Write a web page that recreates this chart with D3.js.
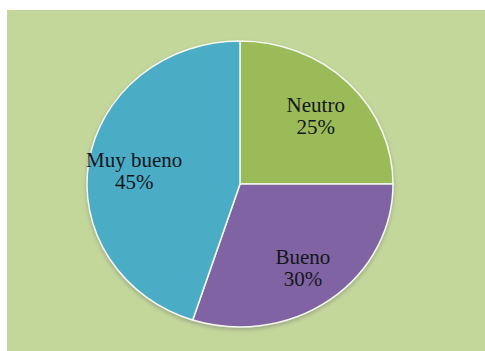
<!DOCTYPE html>
<html>
<head>
<meta charset="utf-8">
<script src="https://cdn.jsdelivr.net/npm/d3@7"></script>
<style>
  html, body { margin: 0; padding: 0; background: #ffffff; }
  svg { display: block; }
  .slice-label { font-family: "Times New Roman", "Liberation Serif", Tinos, "DejaVu Serif", serif; font-size: 21px; }
</style>
</head>
<body>
<div id="chart"></div>
<script>
// Survey rating shares
const categories = ["Neutro", "Bueno", "Muy bueno"];
const values = [25, 30, 45];
const colors = ["#9bbb59", "#8064a2", "#4bacc6"];

const width = 485, height = 351;
const cx = 240, cy = 184;
const r = 143;             // vertical radius
const stretch = 153 / 143; // pie is drawn slightly wider than tall

const data = categories.map((c, i) => ({ name: c, value: values[i], color: colors[i] }));

const svg = d3.select("#chart").append("svg")
  .attr("width", width)
  .attr("height", height);

// panel background
svg.append("rect")
  .attr("x", 7).attr("y", 10)
  .attr("width", width - 7).attr("height", height - 10)
  .attr("fill", "#c4d79b");

const defs = svg.append("defs");
const shadow = defs.append("filter").attr("id", "pieShadow")
  .attr("x", "-10%").attr("y", "-10%").attr("width", "120%").attr("height", "125%");
shadow.append("feDropShadow")
  .attr("dx", 0).attr("dy", 2).attr("stdDeviation", 2)
  .attr("flood-color", "#6b6b6b").attr("flood-opacity", 0.45);

const pie = d3.pie().sort(null).value(d => d.value);
const arc = d3.arc().innerRadius(0).outerRadius(r);
const labelArc = d3.arc().innerRadius(r * 0.7).outerRadius(r * 0.7);

const arcs = pie(data);

const g = svg.append("g")
  .attr("transform", `translate(${cx},${cy}) scale(${stretch},1)`)
  .attr("filter", "url(#pieShadow)");

g.selectAll("path.slice")
  .data(arcs)
  .join("path")
  .attr("class", "slice")
  .attr("d", arc)
  .attr("fill", d => d.data.color)
  .attr("stroke", "#f4f8ee")
  .attr("stroke-width", 1.5)
  .attr("vector-effect", "non-scaling-stroke");

// labels: name and percentage on two lines
const total = d3.sum(values);
const labels = svg.append("g")
  .attr("fill", "#14161c")
  .attr("text-anchor", "middle");

labels.selectAll("text")
  .data(arcs)
  .join("text")
  .attr("class", "slice-label")
  .each(function (d) {
    const [lx, ly] = labelArc.centroid(d);
    const x = cx + lx * stretch, y = cy + ly;
    const t = d3.select(this);
    t.append("tspan").attr("x", x).attr("y", y - 1).text(d.data.name);
    t.append("tspan").attr("x", x).attr("y", y + 21)
      .text(Math.round(d.data.value / total * 100) + "%");
  });
</script>
</body>
</html>
